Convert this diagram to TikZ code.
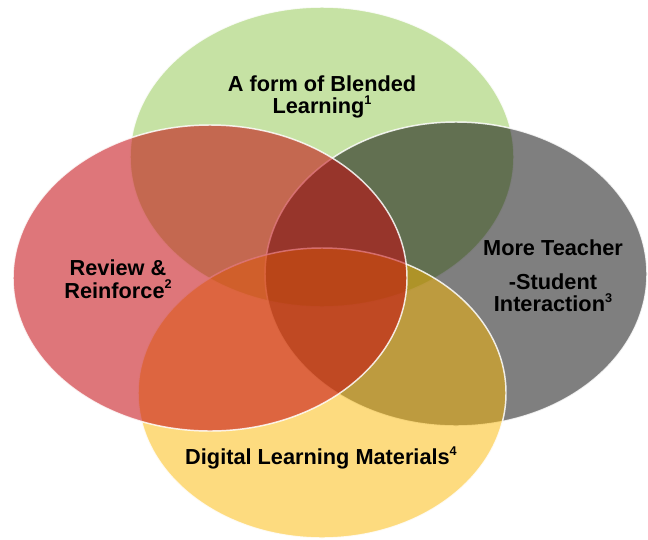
\documentclass[tikz,border=0pt]{standalone}
\usepackage{fontspec}
\setmainfont{Liberation Sans}
\definecolor{leafgreen}{RGB}{141,197,73}
\definecolor{brickred}{RGB}{195,6,13}
\definecolor{sungold}{RGB}{251,183,0}
\newcommand\refmark[1]{\raisebox{.42em}{\fontsize{9.5}{9.5}\selectfont#1}}
\tikzset{
	blob/.style={draw=white, line width=1.1pt, draw opacity=.85, fill opacity=.5},
	vlabel/.style={font=\fontsize{16.3}{17}\selectfont\bfseries, align=center, text=black, inner sep=0pt},
}
\begin{document}
\begin{tikzpicture}[x=.75pt,y=-.75pt]
	\useasboundingbox (0,0) rectangle (648,539);
	% the four sets, back to front
	\filldraw [blob, fill=leafgreen] (322,157) ellipse [x radius=192, y radius=150];
	\filldraw [blob, fill=black] (456,274) ellipse [x radius=191, y radius=152];
	\filldraw [blob, fill=sungold] (322,393) ellipse [x radius=184, y radius=145];
	\filldraw [blob, fill=brickred, fill opacity=.55] (210,278) ellipse [x radius=197, y radius=153];
	% labels
	\node [vlabel] (blended) at (322,97) {A form of Blended\\Learning\refmark{1}};
	\node [vlabel] (review) at (118,279) {Review \&\\Reinforce\refmark{2}};
	\node [vlabel] (teacher) at (553,276) {More Teacher\\[8pt]-Student\\Interaction\refmark{3}};
	\node [vlabel] (digital) at (321,458) {Digital Learning Materials\refmark{4}};
\end{tikzpicture}
\end{document}
